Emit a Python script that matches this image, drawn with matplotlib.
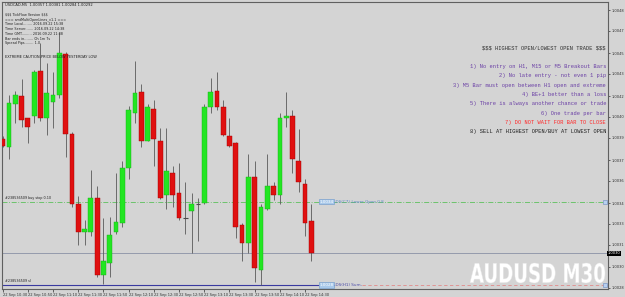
import matplotlib
matplotlib.use("Agg")
import matplotlib.pyplot as plt
import numpy as np
from matplotlib.textpath import TextPath
from matplotlib.patches import PathPatch
from matplotlib.font_manager import FontProperties
from matplotlib.transforms import Affine2D

plt.rcParams['text.parse_math'] = False

# M5 candles (oldest first)
opens = [1.00387, 1.00381, 1.00412, 1.00418, 1.00402, 1.00404, 1.00436, 1.00402, 1.00414, 1.00419,
         1.00448, 1.00391, 1.00340, 1.00320, 1.00320, 1.00345, 1.00289, 1.00298, 1.00320, 1.00327,
         1.00366, 1.00406, 1.00421, 1.00386, 1.00409, 1.00386, 1.00347, 1.00363, 1.00348, 1.00330,
         1.00335, 1.00340, 1.00341, 1.00410, 1.00422, 1.00410, 1.00389, 1.00384, 1.00325, 1.00312,
         1.00360, 1.00293, 1.00337, 1.00353, 1.00347, 1.00402, 1.00404, 1.00371, 1.00355, 1.00328]
highs = [1.00389, 1.00419, 1.00422, 1.00430, 1.00402, 1.00437, 1.00456, 1.00442, 1.00435, 1.00464,
         1.00450, 1.00392, 1.00346, 1.00329, 1.00365, 1.00353, 1.00330, 1.00331, 1.00363, 1.00371,
         1.00411, 1.00443, 1.00427, 1.00412, 1.00415, 1.00395, 1.00395, 1.00368, 1.00370, 1.00356,
         1.00348, 1.00345, 1.00412, 1.00431, 1.00435, 1.00415, 1.00402, 1.00385, 1.00327, 1.00376,
         1.00371, 1.00340, 1.00376, 1.00356, 1.00406, 1.00421, 1.00408, 1.00394, 1.00358, 1.00340]
lows = [1.00381, 1.00373, 1.00399, 1.00396, 1.00384, 1.00399, 1.00400, 1.00390, 1.00395, 1.00417,
        1.00374, 1.00338, 1.00311, 1.00311, 1.00317, 1.00288, 1.00283, 1.00288, 1.00319, 1.00324,
        1.00358, 1.00399, 1.00381, 1.00386, 1.00368, 1.00344, 1.00337, 1.00338, 1.00329, 1.00319,
        1.00305, 1.00314, 1.00340, 1.00406, 1.00408, 1.00389, 1.00381, 1.00316, 1.00299, 1.00305,
        1.00284, 1.00282, 1.00336, 1.00343, 1.00340, 1.00396, 1.00363, 1.00349, 1.00317, 1.00299]
closes = [1.00382, 1.00413, 1.00419, 1.00401, 1.00396, 1.00435, 1.00402, 1.00420, 1.00419, 1.00449,
          1.00391, 1.00340, 1.00320, 1.00322, 1.00345, 1.00289, 1.00299, 1.00318, 1.00327, 1.00366,
          1.00408, 1.00420, 1.00386, 1.00410, 1.00387, 1.00345, 1.00364, 1.00347, 1.00330, 1.00330,
          1.00340, 1.00340, 1.00410, 1.00421, 1.00410, 1.00390, 1.00382, 1.00324, 1.00312, 1.00360,
          1.00294, 1.00338, 1.00353, 1.00347, 1.00402, 1.00404, 1.00373, 1.00356, 1.00327, 1.00305]

buy_stop = 1.00342
stop_loss = 1.00282
bid = closes[-1]

time_labels = ["22 Sep 10:30", "22 Sep 10:50", "22 Sep 11:10", "22 Sep 11:30", "22 Sep 11:50",
               "22 Sep 12:10", "22 Sep 12:30", "22 Sep 12:50", "22 Sep 13:10", "22 Sep 13:30",
               "22 Sep 13:50", "22 Sep 14:10", "22 Sep 14:30"]

info_lines = ["$$$ TickFlow Version $$$",
              "=== smtMultiOpenLines_v1.1 ===",
              "Time Local........ 2016.09.22 15:38",
              "Time Server....... 2016.09.22 14:38",
              "Time GMT......... 2016.09.22 11:38",
              "Bar ends in........ 0h 1m 7s",
              "Spread Pips........ 1.0"]

rules = ["$$$ HIGHEST OPEN/LOWEST OPEN TRADE $$$",
         None,
         "1) No entry on H1, M15 or M5 Breakout Bars",
         "2) No late entry - not even 1 pip",
         "3) M5 Bar must open between H1 open and extreme",
         "4) BE+1 better than a loss",
         "5) There is always another chance or trade",
         "6) One trade per bar",
         "7) DO NOT WAIT FOR BAR TO CLOSE",
         "8) SELL AT HIGHEST OPEN/BUY AT LOWEST OPEN"]
rule_colors = ["#303030", None, "#6a3fa5", "#6a3fa5", "#6a3fa5", "#6a3fa5", "#6a3fa5", "#6a3fa5",
               "#ff2a2a", "#202020"]

BG = "#d4d4d4"
W, H = 625, 297

fig = plt.figure(figsize=(W / 100, H / 100), dpi=100, facecolor=BG)
ax = fig.add_axes([2 / W, 8 / H, 606 / W, 287 / H], facecolor=BG)

o = np.array(opens); h = np.array(highs); l = np.array(lows); c = np.array(closes)
x = np.arange(len(o))
up = c > o
down = c < o
doji = c == o

ax.vlines(x, l, h, color="#5a5a5a", lw=0.6, zorder=2)
ax.bar(x[up], (c - o)[up], bottom=o[up], width=0.76, color="#22e622",
       edgecolor="#14b014", lw=0.3, zorder=3)
ax.bar(x[down], (o - c)[down], bottom=c[down], width=0.76, color="#e01010",
       edgecolor="#a00000", lw=0.3, zorder=3)
ax.hlines(o[doji], x[doji] - 0.35, x[doji] + 0.35, color="#4a4a4a", lw=0.8, zorder=3)

ax.set_xlim(-0.11, 96.08)
ax.set_ylim(1.0027912, 1.0048576)

# order / level lines
ax.axhline(buy_stop, color="#5cc05c", lw=0.6, ls=(0, (6, 2, 1, 2)), zorder=1)
ax.axhline(bid, color="#8a92a6", lw=0.6, zorder=1)
ax.plot([-0.11, 50.0], [stop_loss, stop_loss], color="#3a3aa0", lw=0.8, zorder=1)
ax.plot([57.0, 96.08], [stop_loss, stop_loss], color="#e08a8a", lw=0.6, ls=(0, (4, 3)), zorder=1)

ax.text(0.3, buy_stop + 0.000012, "#238536509 buy stop 0.10", fontsize=2.4, color="#202020",
        va="bottom")
ax.text(0.3, stop_loss + 0.000012, "#238536509 sl", fontsize=2.4, color="#202020", va="bottom")

box = dict(boxstyle="square,pad=0.15", facecolor="#a9c9ea", edgecolor="#6a96c8", lw=0.4)
ax.text(50.3, buy_stop, "1.0034", fontsize=3, color="#ffffff", va="center", bbox=box)
ax.text(52.6, buy_stop, "-DS(C7)-Lower Open 0.8", fontsize=3, color="#5a86c6", va="center")
ax.text(50.3, stop_loss, "1.0028", fontsize=3, color="#ffffff", va="center", bbox=box)
ax.text(52.6, stop_loss, "-DS(H1) Sum-", fontsize=3, color="#4a4aa8", va="center")
ax.plot([95.6, 95.6], [buy_stop, stop_loss], ls="none", marker="s", ms=2.2,
        mfc="#b8d0f0", mec="#6a8ac0", mew=0.4)

# axes styling like the terminal
for s in ax.spines.values():
    s.set_color("#606060")
    s.set_linewidth(0.8)
ax.yaxis.tick_right()
price_ticks = np.round(1.0048 - 0.000154 * np.arange(14), 5)
ax.set_yticks(price_ticks)
ax.set_yticklabels(["%.4f" % p for p in price_ticks])
ax.tick_params(axis="y", labelsize=2.6, length=1.5, width=0.5, pad=0.8, colors="#303030")
ax.set_xticks(np.arange(0, len(o), 4))
ax.set_xticklabels(time_labels)
ax.tick_params(axis="x", labelsize=2.6, length=2, width=0.5, pad=1, colors="#303030")
for lab in ax.get_xticklabels():
    lab.set_horizontalalignment("left")

ax.text(1.0, bid, "%.4f" % bid, transform=ax.get_yaxis_transform(), fontsize=2.6, color="white",
        va="center", ha="left", bbox=dict(boxstyle="square,pad=0.15", facecolor="black", lw=0))

# top-left info block
fig.text(5 / W, 1 - 5 / H, "USDCAD,M5  1.00357 1.00381 1.00284 1.00292", fontsize=2.6,
         color="#202020", va="center")
for i, line in enumerate(info_lines):
    fig.text(5 / W, 1 - (15 + 4.7 * i) / H, line, fontsize=2.4, color="#202020", va="center")
fig.text(5 / W, 1 - 57 / H, "EXTREME CAUTION-PRICE BELOW YESTERDAY LOW", fontsize=2.6,
         color="#202020", va="center")

# right rules block
for i, (line, col) in enumerate(zip(rules, rule_colors)):
    if line is None:
        continue
    fig.text(606 / W, 1 - (48 + 9.3 * i) / H, line, fontsize=3.9, color=col, va="center",
             ha="right", family=["Liberation Mono", "DejaVu Sans Mono"])

# symbol watermark, squeezed into its box like the terminal's condensed font
tp = TextPath((0, 0), "AUDUSD M30", size=20,
              prop=FontProperties(family="DejaVu Sans", weight="bold"))
ext = tp.get_extents()
sx = (605 - 470) / ext.width
sy = (283 - 263) / ext.height
tr = Affine2D().translate(-ext.x0, -ext.y0).scale(sx, sy).translate(470, H - 283)
fig.patches.append(PathPatch(tr.transform_path(tp), facecolor="white", edgecolor="#e8e8e8",
                             lw=0.3, transform=None, figure=fig))

fig.savefig("out.png", dpi=100, facecolor=BG)
